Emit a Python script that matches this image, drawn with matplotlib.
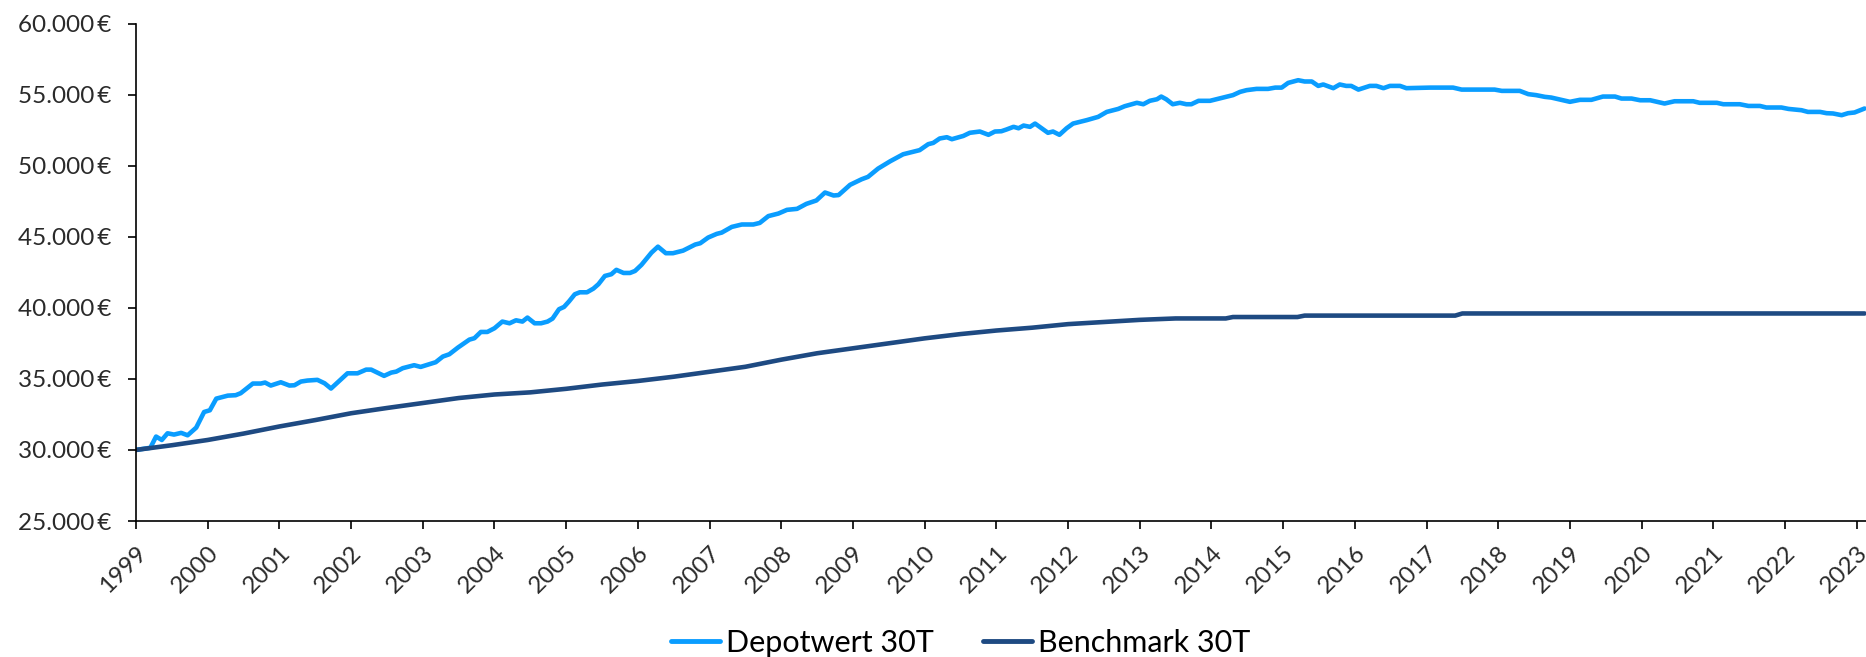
import matplotlib
matplotlib.use("Agg")
import matplotlib.pyplot as plt
from matplotlib.ticker import FuncFormatter

# ---- data ----
dep_years = [1999.00, 1999.20, 1999.28, 1999.36, 1999.44, 1999.53, 1999.63, 1999.72, 1999.84, 1999.95,
             2000.03, 2000.12, 2000.28, 2000.39, 2000.46, 2000.63, 2000.74, 2000.80, 2000.88, 2001.02,
             2001.14, 2001.21, 2001.30, 2001.39, 2001.53, 2001.63, 2001.72, 2001.81, 2001.95, 2002.09,
             2002.21, 2002.28, 2002.46, 2002.56, 2002.63, 2002.72, 2002.88, 2002.97, 2003.18, 2003.28,
             2003.37, 2003.49, 2003.65, 2003.72, 2003.81, 2003.90, 2004.00, 2004.11, 2004.21, 2004.30,
             2004.39, 2004.46, 2004.56, 2004.65, 2004.74, 2004.81, 2004.90, 2004.97, 2005.04, 2005.12,
             2005.19, 2005.29, 2005.38, 2005.45, 2005.54, 2005.63, 2005.70, 2005.80, 2005.89, 2005.96,
             2006.05, 2006.19, 2006.28, 2006.39, 2006.49, 2006.63, 2006.80, 2006.87, 2006.98, 2007.10,
             2007.17, 2007.31, 2007.45, 2007.61, 2007.70, 2007.82, 2007.96, 2008.08, 2008.22, 2008.35,
             2008.49, 2008.61, 2008.73, 2008.80, 2008.96, 2009.12, 2009.21, 2009.35, 2009.52, 2009.70,
             2009.93, 2010.05, 2010.12, 2010.21, 2010.31, 2010.38, 2010.54, 2010.63, 2010.77, 2010.89,
             2010.98, 2011.07, 2011.14, 2011.24, 2011.31, 2011.38, 2011.47, 2011.54, 2011.72, 2011.79,
             2011.88, 2011.98, 2012.07, 2012.26, 2012.42, 2012.54, 2012.70, 2012.79, 2012.96, 2013.05,
             2013.14, 2013.24, 2013.30, 2013.37, 2013.46, 2013.56, 2013.65, 2013.72, 2013.82, 2013.98,
             2014.30, 2014.40, 2014.49, 2014.63, 2014.79, 2014.89, 2014.98, 2015.07, 2015.21, 2015.30,
             2015.40, 2015.49, 2015.56, 2015.70, 2015.79, 2015.88, 2015.95, 2016.05, 2016.21, 2016.30,
             2016.40, 2016.49, 2016.63, 2016.72, 2017.05, 2017.37, 2017.49, 2017.95, 2018.05, 2018.30,
             2018.42, 2018.53, 2018.65, 2018.74, 2019.00, 2019.14, 2019.30, 2019.46, 2019.63, 2019.72,
             2019.86, 2019.98, 2020.12, 2020.32, 2020.46, 2020.72, 2020.81, 2021.05, 2021.14, 2021.37,
             2021.49, 2021.65, 2021.74, 2021.95, 2022.05, 2022.23, 2022.32, 2022.49, 2022.58, 2022.67,
             2022.79, 2022.88, 2022.97, 2023.11]
dep_values = [30000, 30150, 30940, 30700, 31170, 31080, 31200, 31030, 31570, 32670,
              32790, 33610, 33820, 33850, 33990, 34670, 34670, 34740, 34530, 34760,
              34530, 34550, 34810, 34880, 34930, 34690, 34320, 34740, 35390, 35390,
              35650, 35650, 35210, 35440, 35510, 35750, 35960, 35840, 36170, 36570,
              36730, 37200, 37760, 37860, 38300, 38300, 38560, 39030, 38910, 39120,
              39030, 39310, 38910, 38910, 39030, 39240, 39900, 40060, 40450, 40950,
              41090, 41090, 41350, 41660, 42240, 42360, 42670, 42450, 42450, 42590,
              43020, 43880, 44300, 43840, 43840, 44020, 44450, 44540, 44940, 45200,
              45290, 45690, 45860, 45860, 45970, 46450, 46630, 46890, 46960, 47310,
              47550, 48110, 47900, 47930, 48650, 49040, 49210, 49790, 50310, 50800,
              51090, 51510, 51600, 51910, 52000, 51860, 52090, 52310, 52400, 52170,
              52400, 52420, 52540, 52730, 52630, 52820, 52730, 52960, 52310, 52400,
              52170, 52630, 52960, 53200, 53430, 53780, 53990, 54180, 54420, 54320,
              54560, 54670, 54860, 54670, 54320, 54420, 54320, 54320, 54560, 54560,
              54960, 55190, 55310, 55400, 55400, 55490, 55490, 55820, 56010, 55920,
              55920, 55610, 55710, 55450, 55710, 55610, 55610, 55350, 55610, 55610,
              55450, 55610, 55610, 55450, 55490, 55490, 55350, 55350, 55260, 55260,
              55030, 54960, 54840, 54790, 54490, 54630, 54630, 54860, 54860, 54720,
              54720, 54600, 54600, 54370, 54530, 54530, 54420, 54420, 54320, 54320,
              54200, 54200, 54090, 54090, 53990, 53900, 53780, 53780, 53690, 53670,
              53550, 53690, 53740, 54020]

bm_years = [1999.0, 1999.5, 2000.0, 2000.5, 2001.0, 2001.5, 2002.0, 2002.5, 2003.0, 2003.5,
            2004.0, 2004.5, 2005.0, 2005.5, 2006.0, 2006.5, 2007.0, 2007.5, 2008.0, 2008.5,
            2009.0, 2009.5, 2010.0, 2010.5, 2011.0, 2011.5, 2012.0, 2012.5, 2013.0, 2013.5,
            2014.2, 2014.3, 2015.2, 2015.3, 2017.4, 2017.5, 2023.11]
bm_values = [30000, 30330, 30700, 31150, 31650, 32100, 32580, 32950, 33300, 33650,
             33900, 34050, 34300, 34600, 34850, 35150, 35500, 35850, 36350, 36800,
             37150, 37500, 37850, 38150, 38400, 38600, 38850, 39000, 39150, 39250,
             39250, 39350, 39350, 39450, 39450, 39600, 39600]

series_labels = ["Depotwert 30T", "Benchmark 30T"]
year_ticks = list(range(1999, 2024))
y_ticks = [25000, 30000, 35000, 40000, 45000, 50000, 55000, 60000]

# ---- style ----
FONT = ["Lato", "DejaVu Sans"]
plt.rcParams["font.family"] = FONT
c_dep = "#0a9dff"
c_bm = "#1e4a82"
txt = "#2a2a2a"

fig = plt.figure(figsize=(18.66, 6.57), dpi=100)
ax = fig.add_axes([136 / 1866, 1 - 521 / 657, 1730 / 1866, (521 - 23.5) / 657])

ax.plot(dep_years, dep_values, color=c_dep, lw=3.3, solid_joinstyle="round",
        solid_capstyle="round", label=series_labels[0])
ax.plot(bm_years, bm_values, color=c_bm, lw=3.3, solid_joinstyle="round",
        solid_capstyle="round", label=series_labels[1])

ax.set_xlim(1999, 2023.13)
ax.set_ylim(25000, 60000)
ax.set_yticks(y_ticks)
ax.set_xticks(year_ticks)


def eur(v, pos):
    s = f"{int(v):,}".replace(",", ".")
    return s + "\u2009€"


ax.yaxis.set_major_formatter(FuncFormatter(eur))
ax.set_xticklabels([str(y) for y in year_ticks])

for s in ["top", "right"]:
    ax.spines[s].set_visible(False)
for s in ["left", "bottom"]:
    ax.spines[s].set_linewidth(1.2)
    ax.spines[s].set_color("black")

ax.tick_params(axis="y", direction="out", length=6, width=1.2, pad=12,
               labelsize=17.5, labelcolor=txt)
ax.tick_params(axis="x", direction="out", length=6, width=1.2, pad=9,
               labelsize=17.5, labelcolor=txt)
for lab in ax.get_xticklabels():
    lab.set_rotation(45)
    lab.set_ha("right")
    lab.set_va("top")
    lab.set_rotation_mode("anchor")

leg = fig.legend(loc="center", bbox_to_anchor=(961 / 1866, 1 - 643 / 657), ncol=2,
                 frameon=False, fontsize=22, handlelength=1.6, handletextpad=0.2,
                 columnspacing=1.6, borderpad=0.0)
for t in leg.get_texts():
    t.set_color("black")
for h in leg.get_lines():
    h.set_linewidth(3.5)

fig.savefig("out.png", dpi=100)
